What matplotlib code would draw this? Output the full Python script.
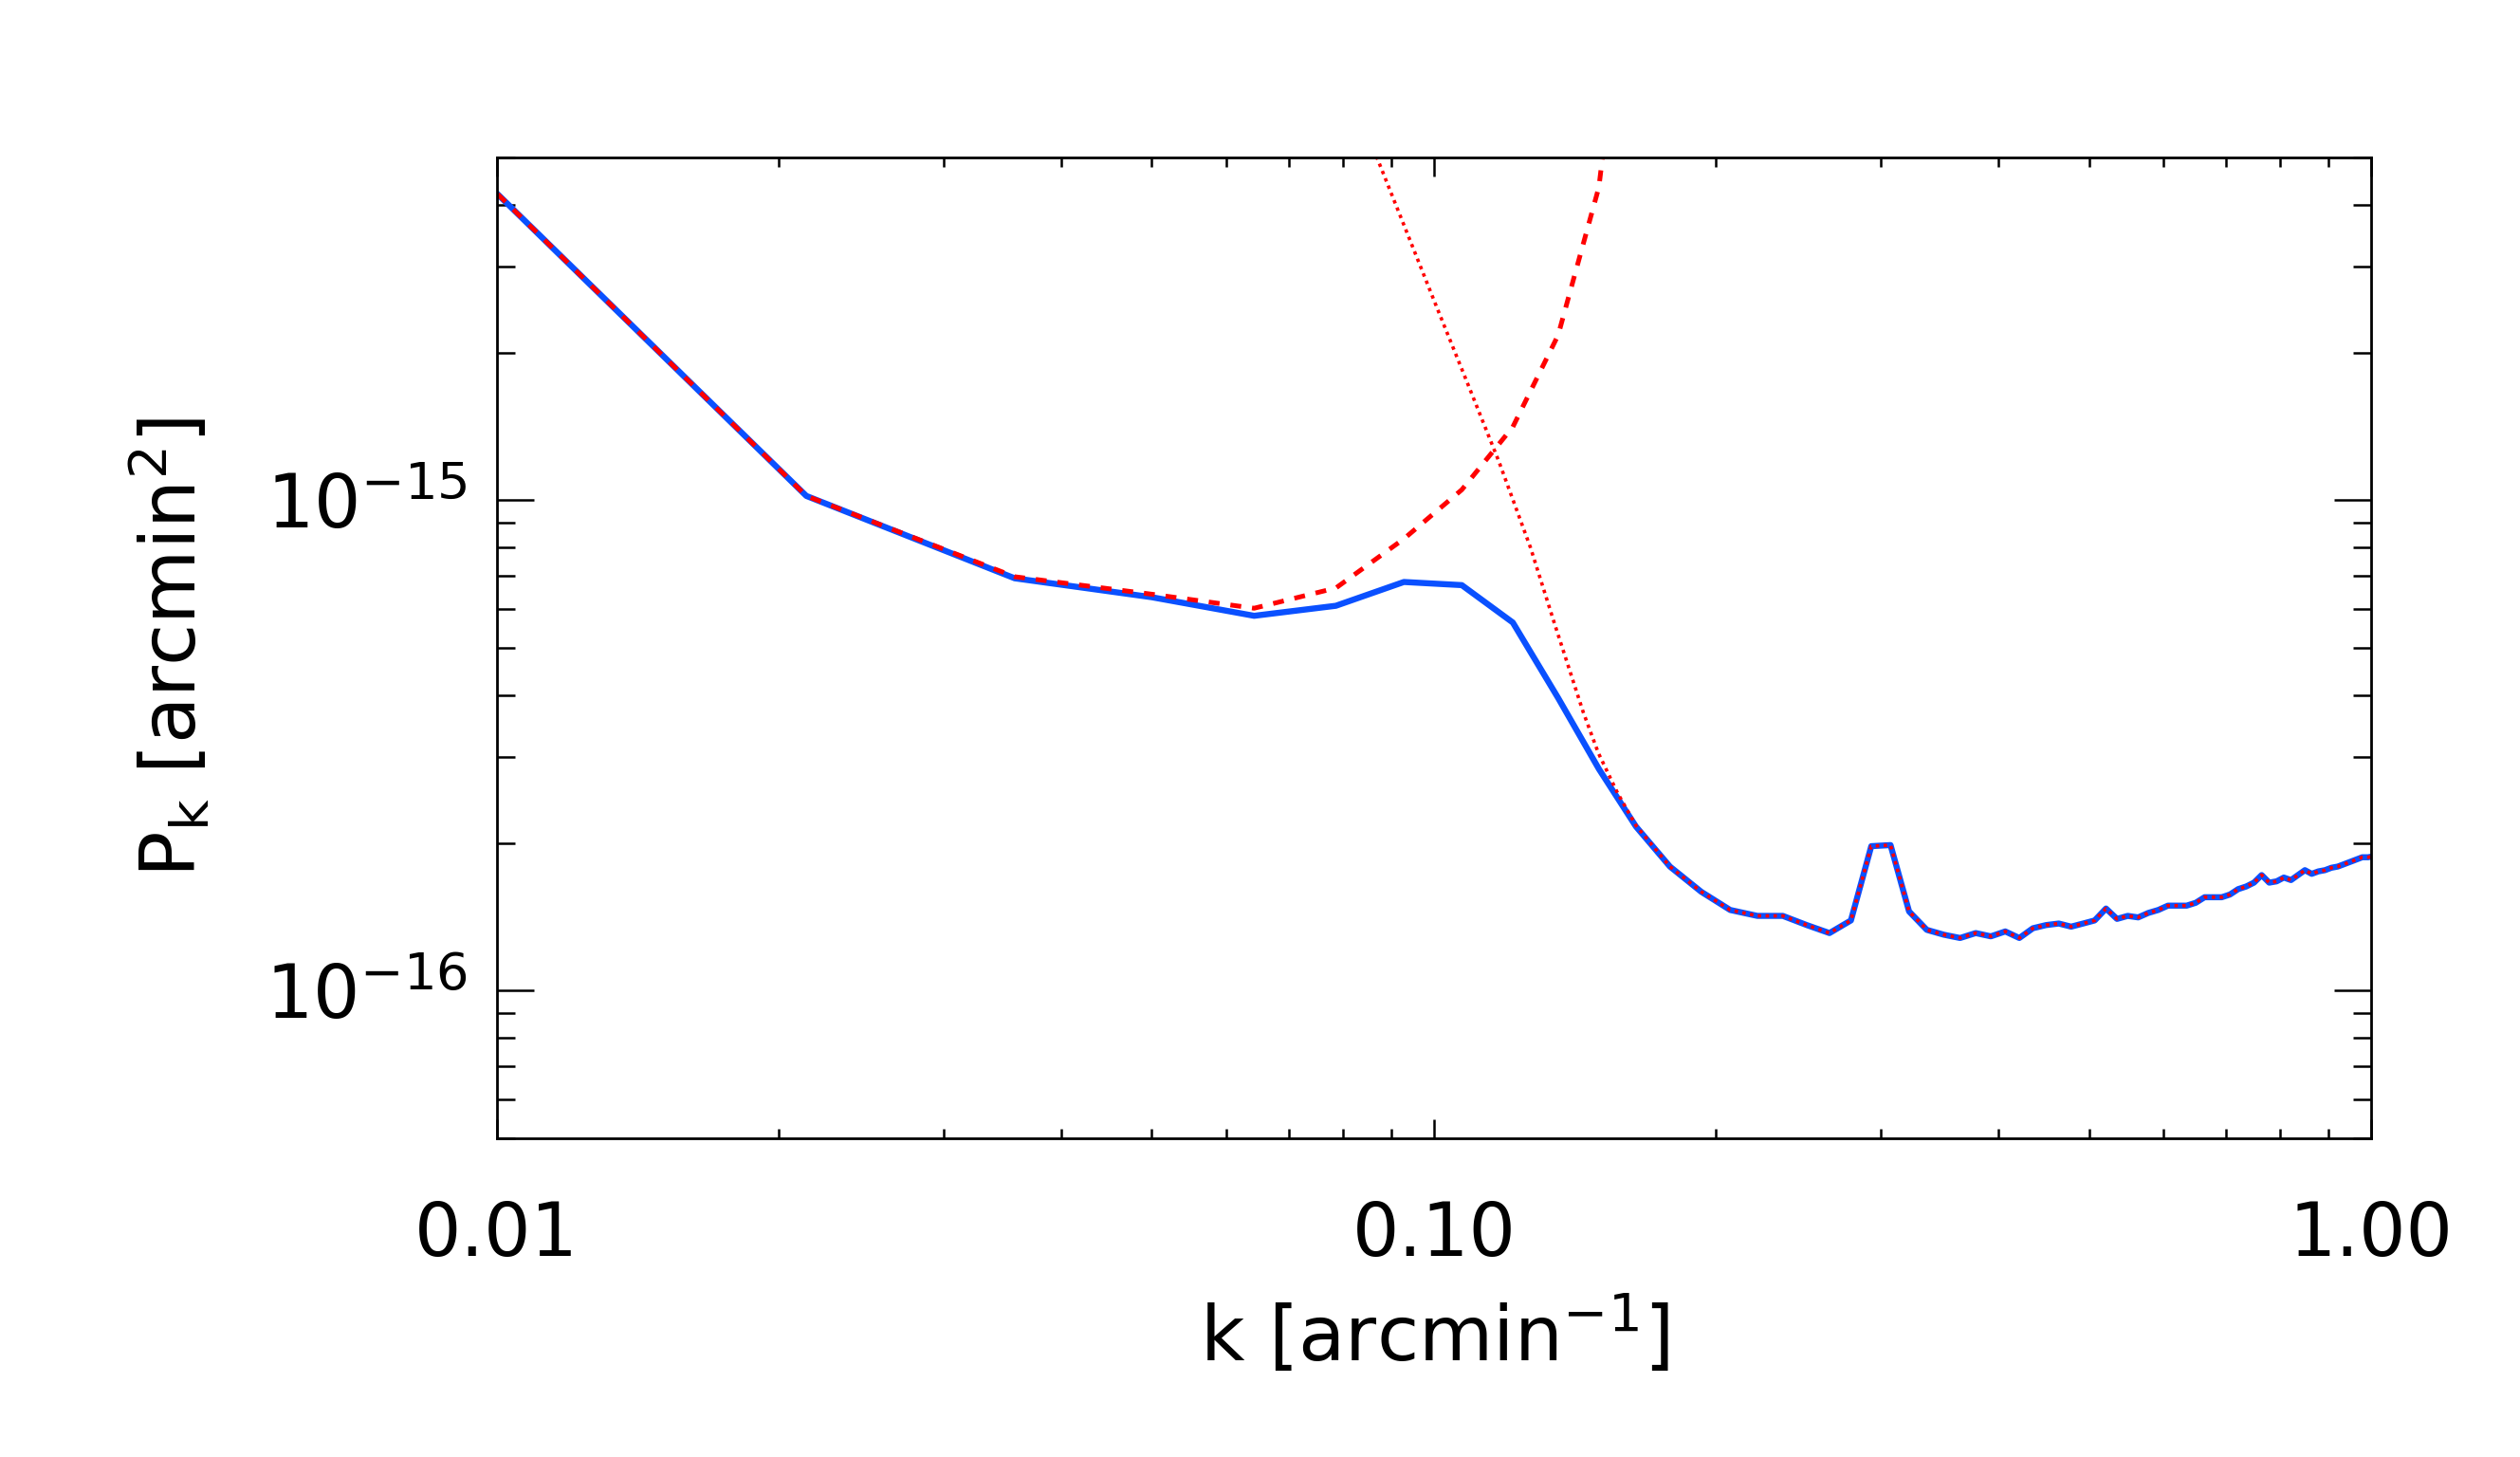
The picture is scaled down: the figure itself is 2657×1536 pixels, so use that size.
import numpy as np
import matplotlib.pyplot as plt
from matplotlib.ticker import LogLocator, NullFormatter

plt.rcParams['font.family'] = ['DejaVu Sans']

# bin centres [arcmin^-1]
k = [0.0071, 0.0214, 0.0357, 0.0500, 0.0643, 0.0786, 0.0929, 0.1071, 0.1214, 0.1357,
     0.1500, 0.1643, 0.1786, 0.1929, 0.2071, 0.2214, 0.2357, 0.2500, 0.2643, 0.2786,
     0.2929, 0.3071, 0.3214, 0.3357, 0.3500, 0.3643, 0.3786, 0.3929, 0.4071, 0.4214,
     0.4357, 0.4500, 0.4643, 0.4786, 0.4929, 0.5071, 0.5214, 0.5357, 0.5500, 0.5643,
     0.5786, 0.5929, 0.6071, 0.6214, 0.6357, 0.6500, 0.6643, 0.6786, 0.6929, 0.7071,
     0.7214, 0.7357, 0.7500, 0.7643, 0.7786, 0.7929, 0.8071, 0.8214, 0.8357, 0.8500,
     0.8643, 0.8786, 0.8929, 0.9071, 0.9214, 0.9357, 0.9500, 0.9643, 0.9786, 0.9929,
     1.0071]

# measured P_k, units of 1e-16 arcmin^2 (solid blue)
pk_meas = [80.1, 10.2, 6.93, 6.34, 5.81, 6.09, 6.81, 6.71, 5.63, 3.95,
           2.83, 2.16, 1.79, 1.59, 1.46, 1.42, 1.42, 1.36, 1.31, 1.39,
           1.97, 1.98, 1.45, 1.33, 1.30, 1.28, 1.31, 1.29, 1.32, 1.28,
           1.34, 1.36, 1.37, 1.35, 1.37, 1.39, 1.47, 1.40, 1.42, 1.41,
           1.44, 1.46, 1.49, 1.49, 1.49, 1.51, 1.55, 1.55, 1.55, 1.57,
           1.61, 1.63, 1.66, 1.72, 1.66, 1.67, 1.70, 1.68, 1.72, 1.76,
           1.73, 1.75, 1.76, 1.78, 1.79, 1.81, 1.83, 1.85, 1.87, 1.87,
           1.88]

# dashed model, first 12 bins (1e-16 arcmin^2)
pk_dash = [80.1, 10.2, 6.98, 6.43, 6.02, 6.62, 8.34, 10.5, 14.1, 21.7, 43.5, 186.0]

# dotted model, steep part (joins the measured curve above k~0.17)
k_dot = [0.0850, 0.0870, 0.0929, 0.1004, 0.1085, 0.1173, 0.1268, 0.1345, 0.1443,
         0.1498, 0.1570, 0.1643]
pk_dot = [55.7, 49.8, 36.4, 25.1, 17.4, 12.0, 8.0, 5.6, 3.7, 3.05, 2.53, 2.17]

k = np.array(k)
pk_meas = np.array(pk_meas) * 1e-16
pk_dash = np.array(pk_dash) * 1e-16
dot_k = np.concatenate([k_dot, k[12:]])
dot_p = np.concatenate([np.array(pk_dot) * 1e-16, pk_meas[12:]])

fig = plt.figure(figsize=(26.57, 15.36), dpi=100)
ax = fig.add_axes([0.1971, 0.2188, 0.7438, 0.6732])

ax.plot(k, pk_meas, color='#0a50ff', lw=4.6)
ax.plot(k[:12], pk_dash, color='#ff0000', lw=3.6, dashes=(2.3, 2.3))
ax.plot(dot_k, dot_p, color='#ff0000', lw=2.6, dashes=(1.0, 1.3))

ax.set_xscale('log')
ax.set_yscale('log')
ax.set_xlim(0.01, 1.0)
ax.set_ylim(5e-17, 5e-15)

ax.set_xticks([0.01, 0.1, 1.0])
ax.set_xticklabels(['0.01', '0.10', '1.00'])
ax.xaxis.set_minor_locator(LogLocator(base=10, subs=np.arange(2, 10)))
ax.xaxis.set_minor_formatter(NullFormatter())
ax.set_yticks([1e-16, 1e-15])
ax.set_yticklabels([r'$\mathregular{10^{-16}}$', r'$\mathregular{10^{-15}}$'])
ax.yaxis.set_minor_locator(LogLocator(base=10, subs=np.arange(2, 10)))
ax.yaxis.set_minor_formatter(NullFormatter())

ax.tick_params(which='both', direction='in', top=True, right=True, width=1.8,
               labelsize=56)
ax.tick_params(axis='x', which='major', length=14.5, pad=46)
ax.tick_params(axis='x', which='minor', length=7.2)
ax.tick_params(axis='y', which='major', length=28, pad=22)
ax.tick_params(axis='y', which='minor', length=14)
for s in ax.spines.values():
    s.set_linewidth(2.0)

ax.set_xlabel(r'k [arcmin$^{\mathregular{-1}}$]', fontsize=58)
ax.set_ylabel(r'P$_{\mathregular{k}}$ [arcmin$^{\mathregular{2}}$]', fontsize=58)
ax.xaxis.set_label_coords(0.5, -0.16)
ax.yaxis.set_label_coords(-0.152, 0.5)

fig.savefig('out.png', dpi=100)
